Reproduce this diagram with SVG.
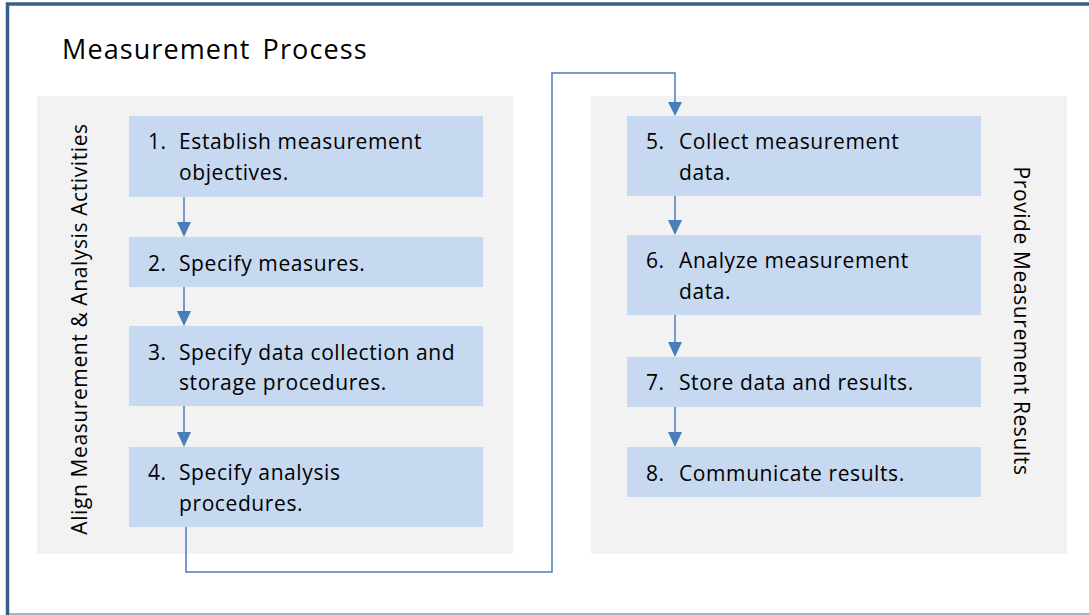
<svg xmlns="http://www.w3.org/2000/svg" width="1089" height="615" viewBox="0 0 1089 615">
<defs>
<style>
.panel{fill:#f2f2f2}
.box{fill:#c6d9f0}
.t{font-family:"Open Sans","Noto Sans",sans-serif;font-size:21px;fill:#000;letter-spacing:0.6px}
.side{font-family:"Open Sans","Noto Sans",sans-serif;font-size:21px;fill:#000;letter-spacing:0.6px;text-anchor:middle}
.title{font-family:"Open Sans","Noto Sans",sans-serif;font-size:27px;fill:#000;letter-spacing:1.1px;word-spacing:4px}
.c{fill:none;stroke:#4a7ebb;stroke-width:1.5}
.ah{fill:#4a7ebb}
</style>
</defs>
<rect x="0" y="0" width="1089" height="615" fill="#ffffff"/>
<rect id="frame" x="7.5" y="4" width="1095" height="620" fill="#ffffff" stroke="#385d8a" stroke-width="3.5"/>
<line x1="9" y1="614" x2="1089" y2="614" stroke="#7f9cc7" stroke-width="1.5"/>
<text class="title" x="62" y="59">Measurement Process</text>

<g id="panel-left">
<rect class="panel" x="37" y="96" width="476" height="458"/>
<text class="side" transform="translate(87 329) rotate(-90)">Align Measurement &amp; Analysis Activities</text>
</g>
<g id="panel-right">
<rect class="panel" x="591" y="96" width="476" height="458"/>
<text class="side" transform="translate(1014 321) rotate(90)">Provide Measurement Results</text>
</g>

<g id="connectors">
<path class="c" d="M184 197 V223"/>
<path class="ah" d="M177 222 H191 L184 237 Z"/>
<path class="c" d="M184 287 V312"/>
<path class="ah" d="M177 311 H191 L184 326 Z"/>
<path class="c" d="M184 406 V433"/>
<path class="ah" d="M177 432 H191 L184 447 Z"/>
<path class="c" d="M186 527 V572 H552 V73 H675 V103"/>
<path class="ah" d="M668 102 H682 L675 116 Z"/>
<path class="c" d="M675 196 V221"/>
<path class="ah" d="M668 220 H682 L675 235 Z"/>
<path class="c" d="M675 315 V343"/>
<path class="ah" d="M668 342 H682 L675 357 Z"/>
<path class="c" d="M675 407 V433"/>
<path class="ah" d="M668 432 H682 L675 447 Z"/>
</g>

<g id="step1">
<rect class="box" x="129" y="116" width="354" height="81"/>
<text class="t" x="148" y="149">1.</text>
<text class="t" x="179" y="149">Establish measurement</text>
<text class="t" x="179" y="180">objectives.</text>
</g>
<g id="step2">
<rect class="box" x="129" y="237" width="354" height="50"/>
<text class="t" x="148" y="271">2.</text>
<text class="t" x="179" y="271">Specify measures.</text>
</g>
<g id="step3">
<rect class="box" x="129" y="326" width="354" height="80"/>
<text class="t" x="148" y="360">3.</text>
<text class="t" x="179" y="360">Specify data collection and</text>
<text class="t" x="179" y="390">storage procedures.</text>
</g>
<g id="step4">
<rect class="box" x="129" y="447" width="354" height="80"/>
<text class="t" x="148" y="480">4.</text>
<text class="t" x="179" y="480">Specify analysis</text>
<text class="t" x="179" y="511">procedures.</text>
</g>
<g id="step5">
<rect class="box" x="627" y="116" width="354" height="80"/>
<text class="t" x="646" y="149">5.</text>
<text class="t" x="679" y="149">Collect measurement</text>
<text class="t" x="679" y="180">data.</text>
</g>
<g id="step6">
<rect class="box" x="627" y="235" width="354" height="80"/>
<text class="t" x="646" y="268">6.</text>
<text class="t" x="679" y="268">Analyze measurement</text>
<text class="t" x="679" y="299">data.</text>
</g>
<g id="step7">
<rect class="box" x="627" y="357" width="354" height="50"/>
<text class="t" x="646" y="390">7.</text>
<text class="t" x="679" y="390">Store data and results.</text>
</g>
<g id="step8">
<rect class="box" x="627" y="447" width="354" height="50"/>
<text class="t" x="646" y="481">8.</text>
<text class="t" x="679" y="481">Communicate results.</text>
</g>
</svg>
